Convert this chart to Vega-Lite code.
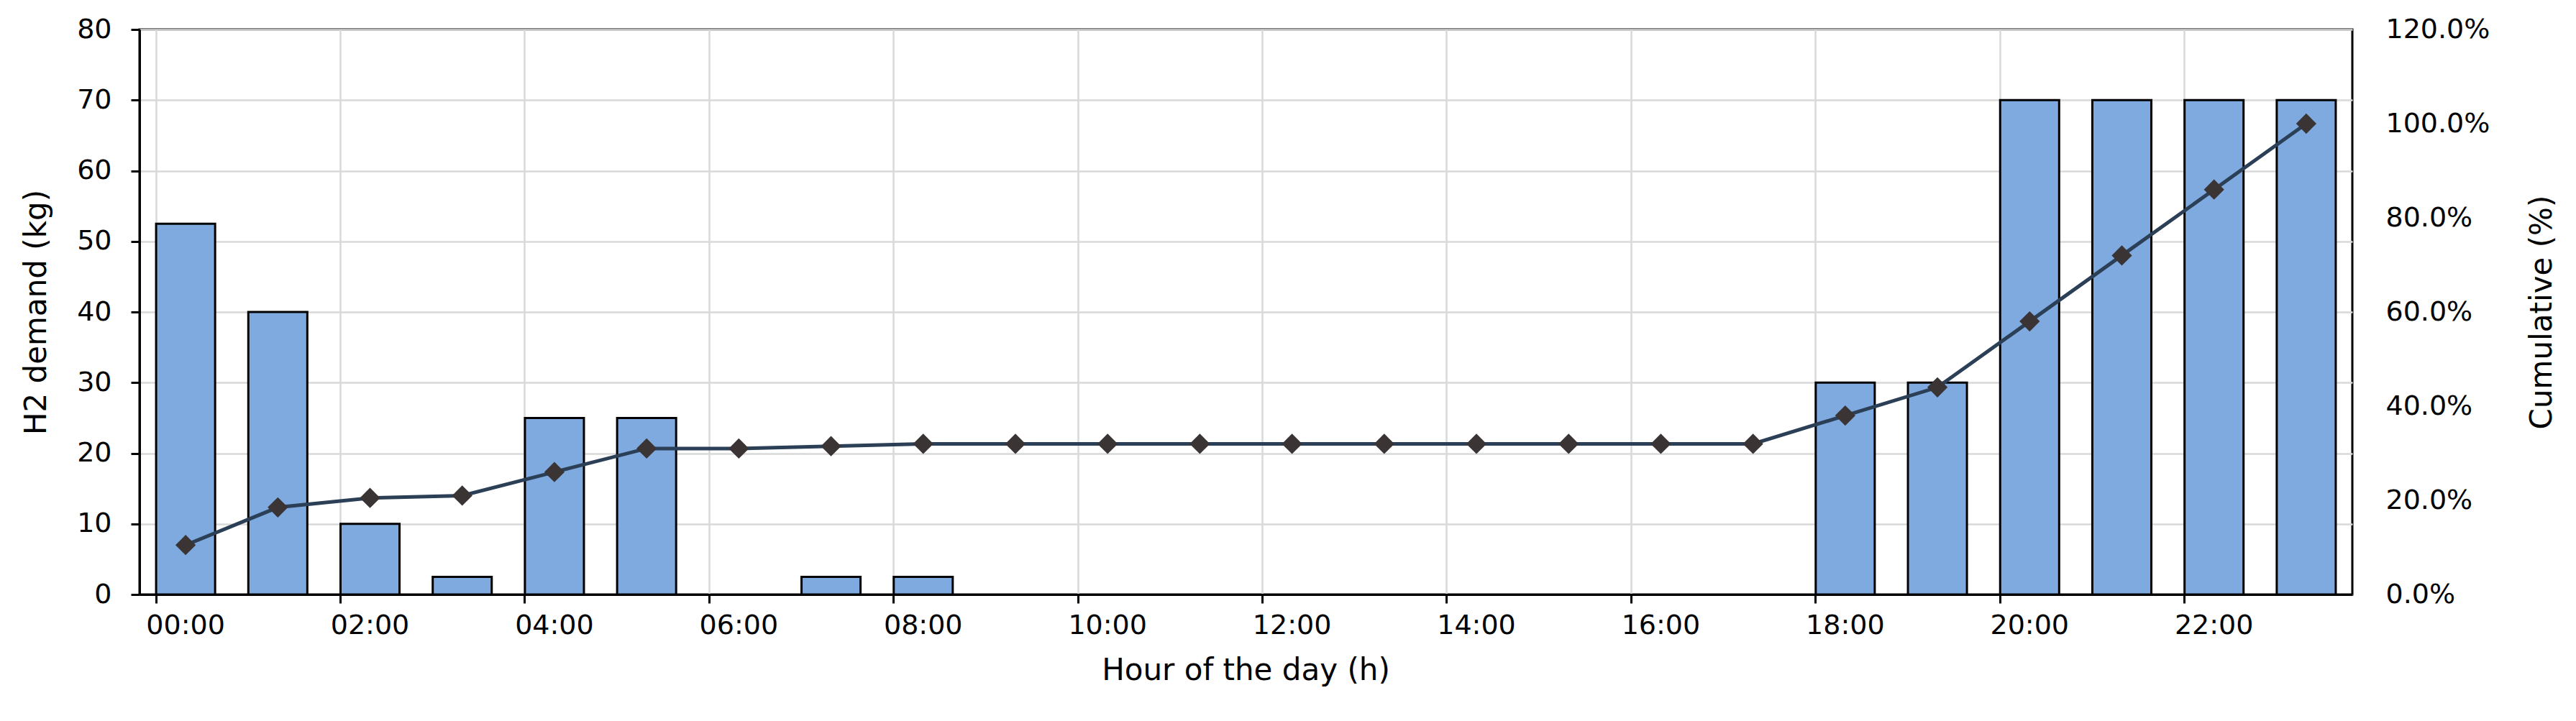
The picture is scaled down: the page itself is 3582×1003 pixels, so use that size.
{
  "$schema": "https://vega.github.io/schema/vega-lite/v6.json",
  "width": 3077,
  "height": 786,
  "autosize": {"type": "none"},
  "padding": {"left": 194, "top": 41, "right": 311, "bottom": 176},
  "background": "white",
  "config": {
    "view": {"stroke": "#000000", "strokeWidth": 3},
    "font": "DejaVu Sans",
    "axis": {
      "labelFont": "DejaVu Sans",
      "labelFontSize": 38,
      "labelColor": "#000000",
      "titleFont": "DejaVu Sans",
      "titleFontSize": 42,
      "titleFontWeight": "normal",
      "titleColor": "#000000",
      "gridColor": "#D9D9D9",
      "gridWidth": 2.5,
      "domainColor": "#000000",
      "domainWidth": 3,
      "tickColor": "#000000",
      "tickWidth": 3,
      "tickSize": 12
    }
  },
  "data": {
    "values": [
      {"hour": "00:00", "demand": 52.5, "cumulative": 0.105},
      {"hour": "01:00", "demand": 40, "cumulative": 0.185},
      {"hour": "02:00", "demand": 10, "cumulative": 0.205},
      {"hour": "03:00", "demand": 2.5, "cumulative": 0.21},
      {"hour": "04:00", "demand": 25, "cumulative": 0.26},
      {"hour": "05:00", "demand": 25, "cumulative": 0.31},
      {"hour": "06:00", "demand": 0, "cumulative": 0.31},
      {"hour": "07:00", "demand": 2.5, "cumulative": 0.315},
      {"hour": "08:00", "demand": 2.5, "cumulative": 0.32},
      {"hour": "09:00", "demand": 0, "cumulative": 0.32},
      {"hour": "10:00", "demand": 0, "cumulative": 0.32},
      {"hour": "11:00", "demand": 0, "cumulative": 0.32},
      {"hour": "12:00", "demand": 0, "cumulative": 0.32},
      {"hour": "13:00", "demand": 0, "cumulative": 0.32},
      {"hour": "14:00", "demand": 0, "cumulative": 0.32},
      {"hour": "15:00", "demand": 0, "cumulative": 0.32},
      {"hour": "16:00", "demand": 0, "cumulative": 0.32},
      {"hour": "17:00", "demand": 0, "cumulative": 0.32},
      {"hour": "18:00", "demand": 30, "cumulative": 0.38},
      {"hour": "19:00", "demand": 30, "cumulative": 0.44},
      {"hour": "20:00", "demand": 70, "cumulative": 0.58},
      {"hour": "21:00", "demand": 70, "cumulative": 0.72},
      {"hour": "22:00", "demand": 70, "cumulative": 0.86},
      {"hour": "23:00", "demand": 70, "cumulative": 1.0}
    ]
  },
  "layer": [
    {
      "transform": [{"filter": "datum.demand > 0"}],
      "mark": {"type": "bar", "fill": "#7FAADF", "stroke": "#000000", "strokeWidth": 3},
      "encoding": {
        "x": {
          "field": "hour", "type": "ordinal", "sort": null,
          "scale": {
            "domain": ["00:00","01:00","02:00","03:00","04:00","05:00","06:00","07:00","08:00","09:00","10:00","11:00","12:00","13:00","14:00","15:00","16:00","17:00","18:00","19:00","20:00","21:00","22:00","23:00"],
            "paddingInner": 0.36, "paddingOuter": 0.18
          },
          "axis": {
            "orient": "bottom",
            "values": ["00:00","02:00","04:00","06:00","08:00","10:00","12:00","14:00","16:00","18:00","20:00","22:00"],
            "labelAngle": 0, "ticks": false, "grid": false, "labelPadding": 24,
            "labelOverlap": false,
            "title": "Hour of the day (h)", "titleX": 1538, "titleY": 105, "titleBaseline": "middle", "titleAnchor": "middle"
          }
        },
        "y": {
          "field": "demand", "type": "quantitative",
          "scale": {"domain": [0, 80], "nice": false},
          "axis": {
            "orient": "left",
            "values": [0,10,20,30,40,50,60,70,80],
            "grid": true, "labelPadding": 27,
            "title": "H2 demand (kg)", "titleX": -144, "titleY": 393, "titleAngle": 270, "titleBaseline": "middle", "titleAlign": "center"
          }
        }
      }
    },
    {
      "mark": {"type": "line", "color": "#2B3F56", "strokeWidth": 5,
        "point": {"shape": "diamond", "filled": true, "size": 800, "color": "#3A3434"}},
      "encoding": {
        "x": {
          "field": "hour", "type": "ordinal", "sort": null,
          "axis": {
            "orient": "bottom",
            "values": ["00:00","02:00","04:00","06:00","08:00","10:00","12:00","14:00","16:00","18:00","20:00","22:00"],
            "bandPosition": 0, "labels": false, "ticks": true, "grid": true, "domain": false, "title": null
          }
        },
        "y": {
          "field": "cumulative", "type": "quantitative",
          "scale": {"domain": [0, 1.2], "nice": false},
          "axis": {
            "orient": "right", "format": ".1%",
            "values": [0, 0.2, 0.4, 0.6, 0.8, 1.0, 1.2],
            "grid": false, "ticks": false, "domain": false, "labelPadding": 46,
            "title": "Cumulative (%)", "titleX": 263, "titleY": 393, "titleAngle": 270, "titleBaseline": "middle", "titleAlign": "center"
          }
        }
      }
    }
  ],
  "resolve": {"scale": {"y": "independent"}, "axis": {"x": "independent", "y": "independent"}}
}
